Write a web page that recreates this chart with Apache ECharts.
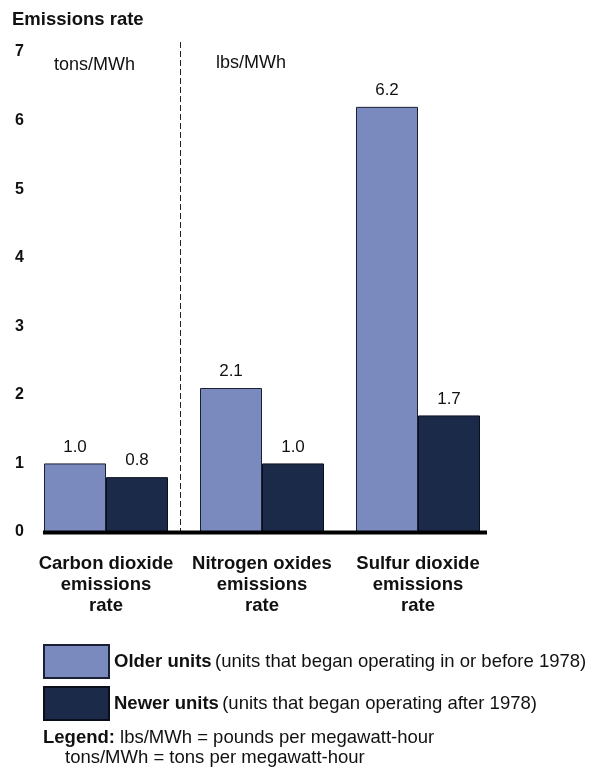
<!DOCTYPE html>
<html><head><meta charset="utf-8">
<script src="https://cdn.jsdelivr.net/npm/echarts@6/dist/echarts.min.js"></script>
<style>html,body{margin:0;padding:0;background:#fff}#c{width:598px;height:769px}</style>
</head><body><div id="c"></div>
<script>
var categories = ['Carbon dioxide\nemissions\nrate', 'Nitrogen oxides\nemissions\nrate', 'Sulfur dioxide\nemissions\nrate'];
var olderUnits = [1.0, 2.1, 6.2];
var newerUnits = [0.8, 1.0, 1.7];
var yTicks = [0, 1, 2, 3, 4, 5, 6, 7];
var unitLabels = ['tons/MWh', 'lbs/MWh'];
var FONT = 'Liberation Sans, Arial, sans-serif';
var FS = 18.5;

var chart = echarts.init(document.getElementById('c'), null, {renderer: 'canvas'});
var labelStyle = {show: true, position: 'top', distance: 8, color: '#111', fontFamily: FONT, fontSize: 17,
  formatter: function (p) { return p.value.toFixed(1); }};
chart.setOption({
  animation: false,
  backgroundColor: '#fff',
  title: {text: 'Emissions rate', left: 7, top: 5, textStyle: {fontFamily: FONT, fontSize: FS, fontWeight: 'bold', color: '#111'}},
  grid: {left: 28, right: 102, top: 52, bottom: 237, containLabel: false},
  legend: {
    orient: 'vertical', left: 38, top: 639, itemWidth: 65, itemHeight: 33, itemGap: 7, itemTextGap: 9, icon: 'rect',
    data: ['Older units', 'Newer units'], selectedMode: false,
    formatter: function (n) {
      return n === 'Older units' ? '{b|Older units} {r|(units that began operating in or before 1978)}'
                                 : '{b|Newer units} {r|(units that began operating after 1978)}';
    },
    textStyle: {rich: {
      b: {fontFamily: FONT, fontSize: FS, fontWeight: 'bold', color: '#111'},
      r: {fontFamily: FONT, fontSize: FS, color: '#111'}
    }}
  },
  xAxis: {
    type: 'category', data: categories,
    axisLine: {show: false},
    axisTick: {show: false},
    axisLabel: {margin: 21, fontFamily: FONT, fontSize: FS, fontWeight: 'bold', color: '#111', lineHeight: 21, interval: 0}
  },
  yAxis: {
    type: 'value', min: yTicks[0], max: yTicks[yTicks.length - 1], interval: 1,
    axisLine: {show: false}, axisTick: {show: false}, splitLine: {show: false},
    axisLabel: {margin: 4, fontFamily: FONT, fontSize: 16, fontWeight: 'bold', color: '#111'}
  },
  series: [
    {name: 'Older units', type: 'bar', data: olderUnits, barWidth: 62, barGap: '0%',
     itemStyle: {color: '#7a8abf', borderColor: '#1a1f33', borderWidth: 1}, label: labelStyle},
    {name: 'Newer units', type: 'bar', data: newerUnits, barWidth: 62, barGap: '0%',
     itemStyle: {color: '#1c2a4a', borderColor: '#0a0f1c', borderWidth: 1}, label: labelStyle}
  ]
});

// Separator, baseline and unit labels positioned from axis scales
var p0 = chart.convertToPixel({xAxisIndex: 0}, 0);
var p1 = chart.convertToPixel({xAxisIndex: 0}, 1);
var p2 = chart.convertToPixel({xAxisIndex: 0}, 2);
var yTop = chart.convertToPixel({yAxisIndex: 0}, 7);
var yBase = chart.convertToPixel({yAxisIndex: 0}, 0);
var sepX = Math.round(p0 + (p1 - p0) * 0.475) + 0.5;
chart.setOption({
  graphic: [
    {type: 'line', shape: {x1: sepX, y1: yTop - 10, x2: sepX, y2: yBase - 1},
     style: {stroke: '#222', lineWidth: 1, lineDash: [6, 3]}, z: 1},
    {type: 'line', shape: {x1: p0 - 63, y1: yBase + 0.5, x2: p2 + 69, y2: yBase + 0.5},
     style: {stroke: '#000', lineWidth: 4}, z: 10},
    {type: 'text', x: p0 - 52, y: yTop + 4, style: {text: unitLabels[0], fontFamily: FONT, fontSize: 18, fill: '#111'}},
    {type: 'text', x: p1 - 46, y: yTop + 2, style: {text: unitLabels[1], fontFamily: FONT, fontSize: 18, fill: '#111'}},
    {type: 'text', x: 43, y: 728, style: {
      text: '{b|Legend:} lbs/MWh = pounds per megawatt-hour',
      fontFamily: FONT, fontSize: FS, fill: '#111',
      rich: {b: {fontFamily: FONT, fontSize: FS, fontWeight: 'bold', fill: '#111'}}}},
    {type: 'text', x: 65, y: 748, style: {
      text: 'tons/MWh = tons per megawatt-hour', fontFamily: FONT, fontSize: FS, fill: '#111'}}
  ]
});
</script></body></html>
